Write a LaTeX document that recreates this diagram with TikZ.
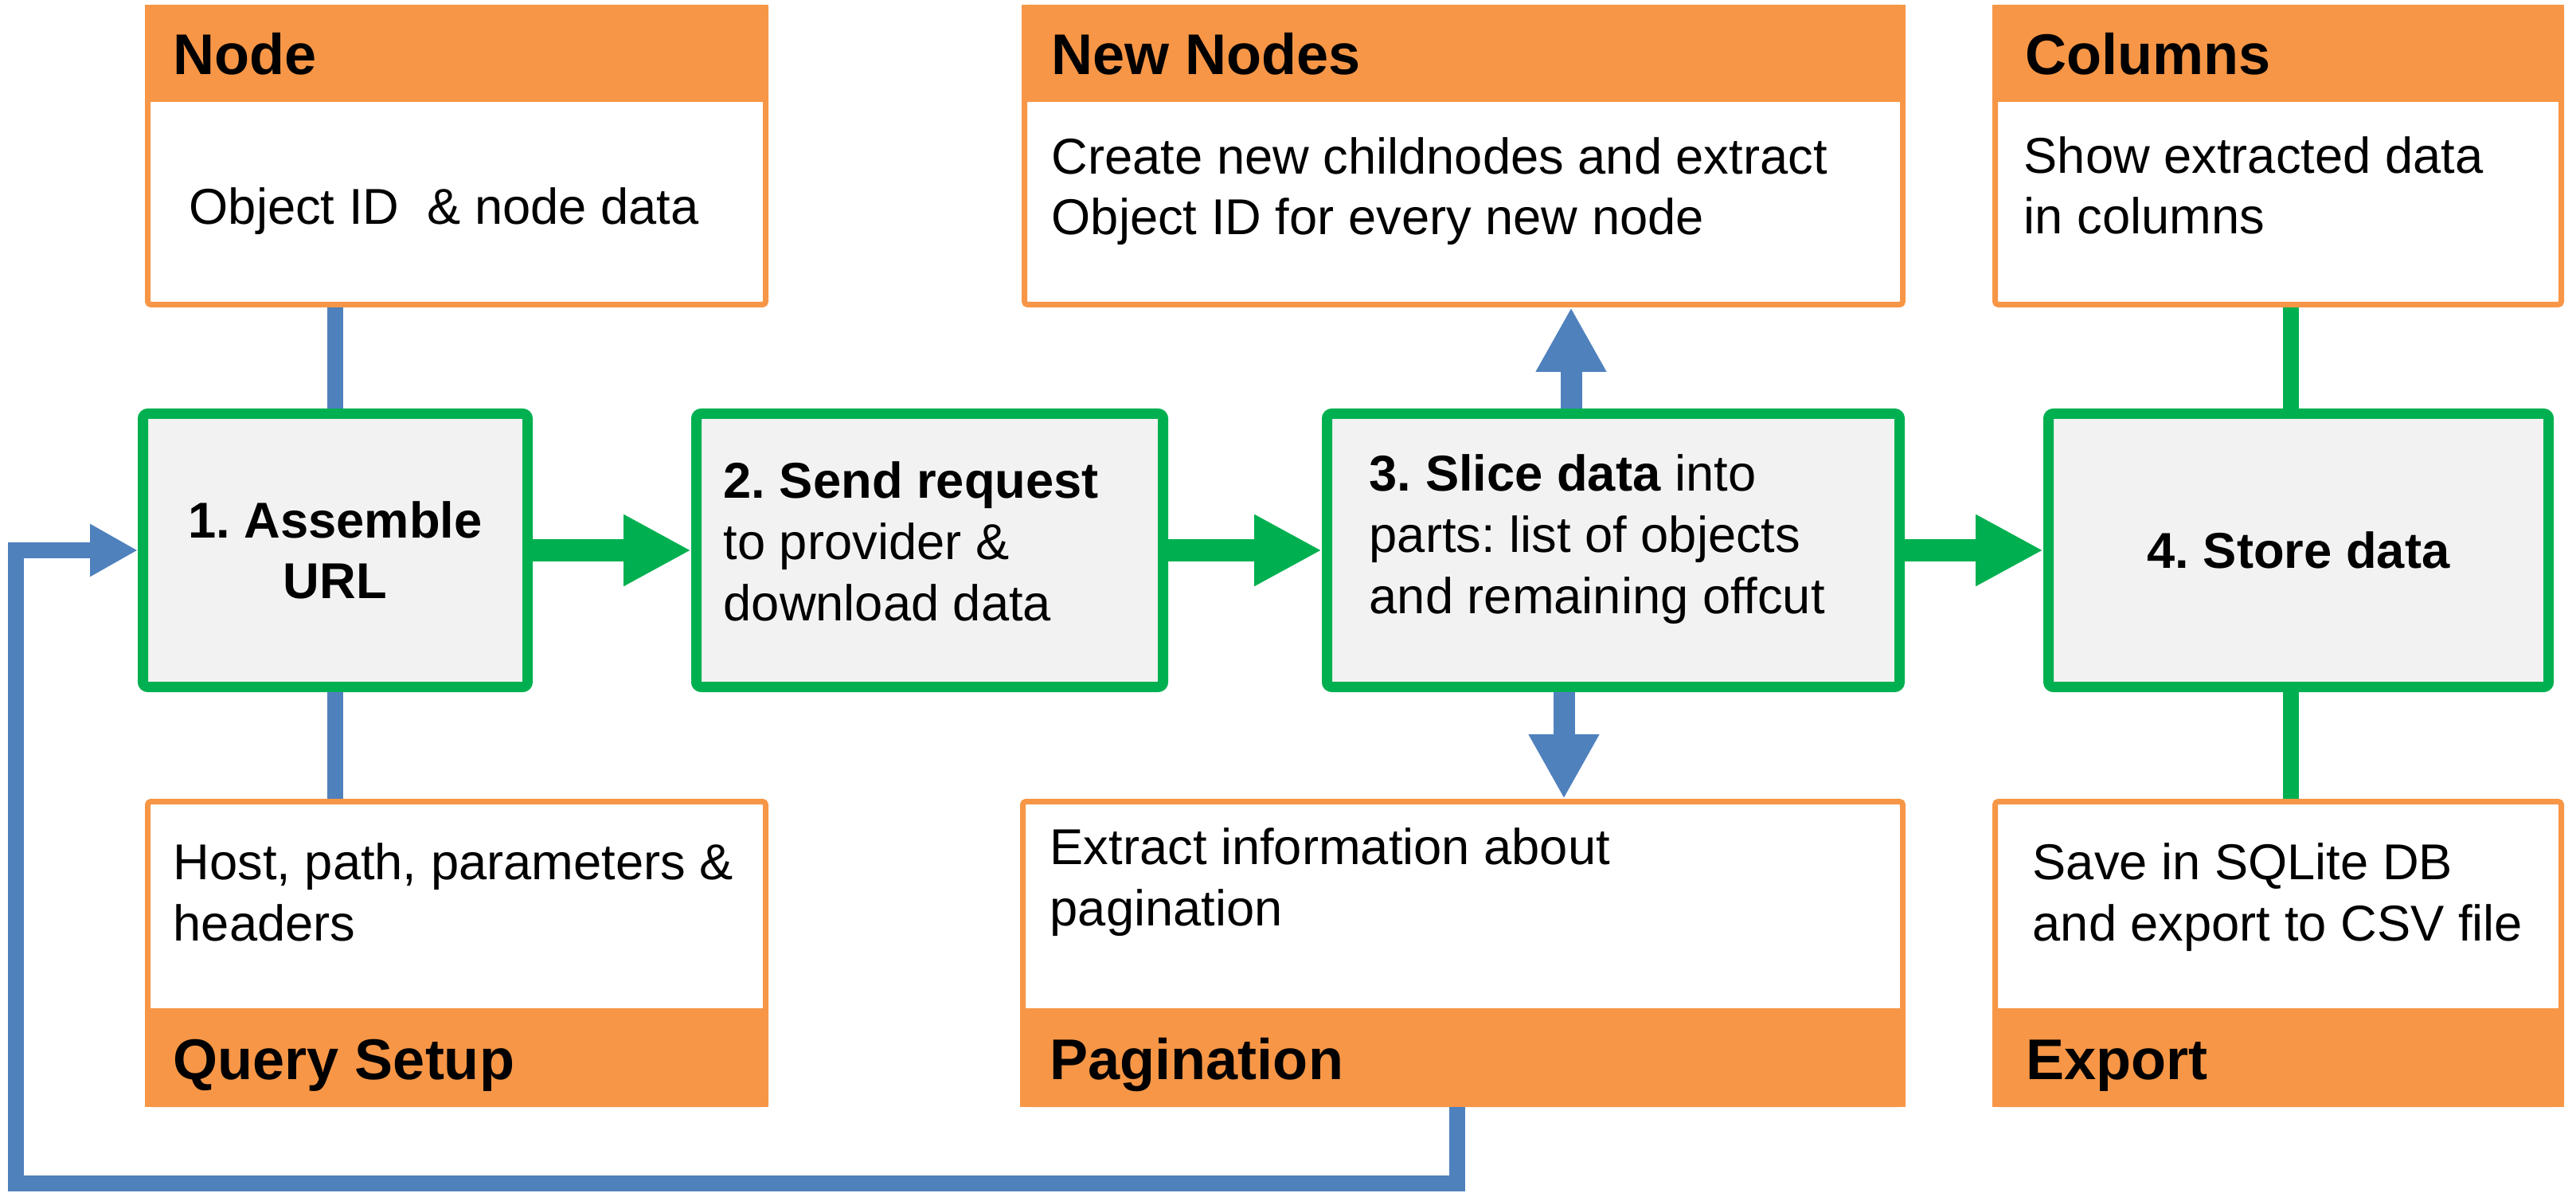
\documentclass[tikz,border=0pt]{standalone}
\usepackage{fontspec}
\setmainfont{Liberation Sans}
\usepackage[usenames,dvipsnames,x11names,rgb]{xcolor}
\usetikzlibrary{arrows.meta}
\definecolor{BandOrange}{HTML}{F79646}
\definecolor{StepGreen}{HTML}{00B050}
\definecolor{LinkBlue}{HTML}{4F81BD}
\definecolor{StepGray}{HTML}{F2F2F2}
\frenchspacing

\begin{document}
\begin{tikzpicture}[
        infobox/.style={draw=BandOrange, line width=0.07cm, rounded corners=0.4mm, fill=white, inner sep=0pt},
        stepbox/.style={draw=StepGreen, line width=0.13cm, rounded corners=0.6mm, fill=StepGray, inner sep=0pt, align=center, font=\fontsize{18}{21.8}\selectfont\bfseries},
        bandtext/.style={anchor=base west, inner sep=0pt, font=\fontsize{20.5}{24}\selectfont\bfseries},
        bodytext/.style={anchor=base west, inner sep=0pt, align=left, font=\fontsize{18}{21.8}\selectfont},
        link/.style={line width=0.2cm},
        flow/.style={StepGreen, line width=0.28cm, -{Triangle[length=0.85cm, width=0.84cm]}},
        branch/.style={LinkBlue, line width=0.27cm, -{Triangle[length=0.81cm, width=0.83cm]}},
        feedback/.style={LinkBlue, line width=0.2cm, -{Triangle[length=0.6cm, width=0.62cm]}}
    ]
        \useasboundingbox (0,0) rectangle (32.35,14.97);

        \node[infobox, minimum width=7.76cm, minimum height=3.73cm] (nodebox) at (5.735,13.01) {};
        \node[infobox, minimum width=11.03cm, minimum height=3.73cm] (newnodes) at (18.38,13.01) {};
        \node[infobox, minimum width=7.11cm, minimum height=3.73cm] (columns) at (28.61,13.01) {};
        \node[infobox, minimum width=7.76cm, minimum height=3.80cm] (query) at (5.735,3.005) {};
        \node[infobox, minimum width=11.05cm, minimum height=3.80cm] (pagination) at (18.37,3.005) {};
        \node[infobox, minimum width=7.11cm, minimum height=3.80cm] (export) at (28.61,3.005) {};

        \foreach \b in {nodebox,newnodes,columns}
            \fill[BandOrange] (\b.north west) rectangle ([yshift=-1.22cm]\b.north east);
        \foreach \b in {query,pagination,export}
            \fill[BandOrange] (\b.south west) rectangle ([yshift=1.24cm]\b.south east);

        \node[stepbox, minimum width=4.83cm, minimum height=3.43cm] (assemble) at (4.21,8.06) {1. Assemble\\URL};
        \node[stepbox, minimum width=5.86cm, minimum height=3.43cm] (request) at (11.675,8.06) {};
        \node[stepbox, minimum width=7.19cm, minimum height=3.43cm] (slice) at (20.26,8.06) {};
        \node[stepbox, minimum width=6.28cm, minimum height=3.43cm] (store) at (28.865,8.06) {4. Store data};

        \node[bandtext] (nodehead) at (2.17,14.03) {Node};
        \node[bodytext] (nodetext) at (2.37,12.15) {Object ID~ \& node data};
        \node[bandtext] (newnodeshead) at (13.20,14.03) {New Nodes};
        \node[bodytext] (newnodestext) at (13.20,12.02) {Create new childnodes and extract\\Object ID for every new node};
        \node[bandtext] (columnshead) at (25.43,14.03) {Columns};
        \node[bodytext] (columnstext) at (25.41,12.03) {Show extracted data\\in columns};
        \node[bodytext] (querytext) at (2.17,3.16) {Host, path, parameters \&\\headers};
        \node[bandtext] (queryfoot) at (2.17,1.42) {Query Setup};
        \node[bodytext] (paginationtext) at (13.18,3.35) {Extract information about\\pagination};
        \node[bandtext] (paginationfoot) at (13.18,1.42) {Pagination};
        \node[bodytext] (exporttext) at (25.52,3.16) {Save in SQLite DB\\and export to CSV file};
        \node[bandtext] (exportfoot) at (25.44,1.42) {Export};
        \node[bodytext] (requesttext) at (9.08,7.18) {\textbf{2. Send request}\\to provider \&\\download data};
        \node[bodytext] (slicetext) at (17.19,7.27) {\textbf{3. Slice data} into\\parts: list of objects\\and remaining offcut};

        \draw[LinkBlue, link] (assemble.north) -- (assemble.north |- nodebox.south);
        \draw[LinkBlue, link] (assemble.south) -- (assemble.south |- query.north);
        \draw[StepGreen, link] ([xshift=-1mm]store.north) -- ([xshift=-1mm]store.north |- columns.south);
        \draw[StepGreen, link] ([xshift=-1mm]store.south) -- ([xshift=-1mm]store.south |- export.north);

        \draw[flow] (assemble.east) -- (request.west);
        \draw[flow] (request.east) -- (slice.west);
        \draw[flow] (slice.east) -- (store.west);
        \draw[branch] ([xshift=-5.3mm]slice.north) -- ([xshift=-5.3mm]slice.north |- newnodes.south);
        \draw[branch] ([xshift=-6.2mm]slice.south) -- ([xshift=-6.2mm]slice.south |- pagination.north);

        \coordinate (loopright) at (18.30,0.11);
        \coordinate (loopleft) at (0.20,0.11);
        \draw[feedback] (pagination.south -| loopright) -- (loopright) -- (loopleft) |- (assemble.west);
    \end{tikzpicture}
\end{document}
